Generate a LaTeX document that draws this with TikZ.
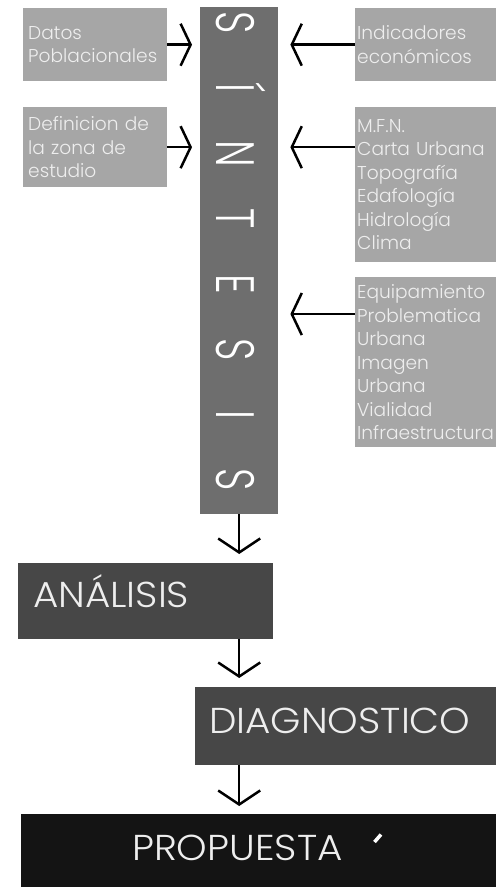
\documentclass[tikz,border=0pt]{standalone}
\usepackage{fontspec}
\setmainfont{Poppins Light}
\usetikzlibrary{arrows.meta}
\definecolor{boxgrey}{HTML}{A6A6A6}
\definecolor{boxtext}{HTML}{EEEEEE}
\definecolor{bargrey}{HTML}{6E6E6E}
\definecolor{darkgrey}{HTML}{474747}
\definecolor{nearblack}{HTML}{141414}
\newcommand{\smallfnt}{\fontsize{18.6}{23.5}\selectfont\hyphenpenalty=10000 }
\newcommand{\bigfnt}{\fontsize{36}{36}\selectfont}
\newcommand{\letterfnt}{\fontsize{54}{54}\selectfont}
\newcommand{\lt}[1]{\scalebox{0.72}[1]{#1}}
\newcommand{\wide}[1]{\scalebox{1.08}[1]{#1}}
\tikzset{
  lbox/.style={fill=boxgrey, draw=none, anchor=north west, inner xsep=5pt,
    inner ysep=0pt, align=left, text=boxtext, font=\smallfnt},
  blockbox/.style={anchor=north west, inner sep=0pt, draw=none},
  biglabel/.style={anchor=base west, inner sep=0pt, text=boxtext, font=\bigfnt},
  letter/.style={rotate=-90, anchor=base, inner sep=0pt, text=white, font=\letterfnt},
  harr/.style={line width=2.5pt, draw=black, -{Straight Barb[length=10pt,width=42pt]}},
  varr/.style={line width=2.5pt, draw=black, -{Straight Barb[length=14pt,width=42pt]}},
}
\begin{document}
\begin{tikzpicture}[x=1pt,y=-1pt]
\useasboundingbox (0,0) rectangle (496,887);
\fill[white] (0,0) rectangle (496,887);

% left boxes
\node[lbox, text width=134pt, minimum height=73pt] (datos) at (23,8) {Datos\\Poblacionales};
\node[lbox, text width=134pt, minimum height=80pt] (def) at (23,107) {Definicion de\\la zona de\\estudio};
% right boxes
\node[lbox, inner xsep=2pt, text width=137pt, minimum height=73pt] (ind) at (355,8) {Indicadores\\económicos};
\node[lbox, inner xsep=2pt, text width=137pt, minimum height=155pt] (mfn) at (355,107) {M.F.N.\\Carta Urbana\\Topografía\\Edafología\\Hidrología\\Clima};
\node[lbox, inner xsep=2pt, text width=137pt, minimum height=170pt] (equip) at (355,277) {Equipamiento\\Problematica\\Urbana\\Imagen\\Urbana\\Vialidad\\Infraestructura};

% central bar
\node[blockbox, fill=bargrey, minimum width=78pt, minimum height=507pt] (sint) at (200,7) {};
\node[letter] (l1) at (216,23) {\lt{S}};
\node[letter] (l2) at (216,88.3) {\lt{Í}};
\node[letter] (l3) at (216,153.6) {\lt{N}};
\node[letter] (l4) at (216,218.9) {\lt{T}};
\node[letter] (l5) at (216,284.2) {\lt{E}};
\node[letter] (l6) at (216,349.5) {\lt{S}};
\node[letter] (l7) at (216,414.8) {\lt{I}};
\node[letter] (l8) at (216,480.1) {\lt{S}};

% lower blocks
\node[blockbox, fill=darkgrey, minimum width=255pt, minimum height=76pt] (ana) at (18,563) {};
\node[biglabel] (analbl) at (33,607) {\wide{ANÁLISIS}};
\node[blockbox, fill=darkgrey, minimum width=301pt, minimum height=78pt] (diag) at (195,687) {};
\node[biglabel] (diaglbl) at (209,733) {\wide{DIAGNOSTICO}};
\node[blockbox, fill=nearblack, minimum width=475pt, minimum height=73pt] (prop) at (21,814) {};
\node[biglabel] (proplbl) at (132,860) {\wide{PROPUESTA}};
\draw[white, line width=3.5pt] (374.5,842) -- (381,834.5);

% arrows into the bar
\draw[harr, shorten >=8pt] (datos.east) -- (datos.east -| sint.west);
\draw[harr, shorten >=8pt] (def.east) -- (def.east -| sint.west);
\draw[harr, shorten >=12pt] (ind.west) -- (ind.west -| sint.east);
\draw[harr, shorten >=12pt] (mfn.west |- def.east) -- (def.east -| sint.east);
\coordinate (eqa) at ([yshift=-37pt]equip.north west);
\draw[harr, shorten >=12pt] (eqa) -- (eqa -| sint.east);

% downward flow
\draw[varr, shorten >=9pt] (sint.south) -- (sint.south |- ana.north);
\draw[varr, shorten >=9pt] (ana.south -| sint.south) -- (diag.north -| sint.south);
\draw[varr, shorten >=8pt] (diag.south -| sint.south) -- (prop.north -| sint.south);
\end{tikzpicture}
\end{document}
